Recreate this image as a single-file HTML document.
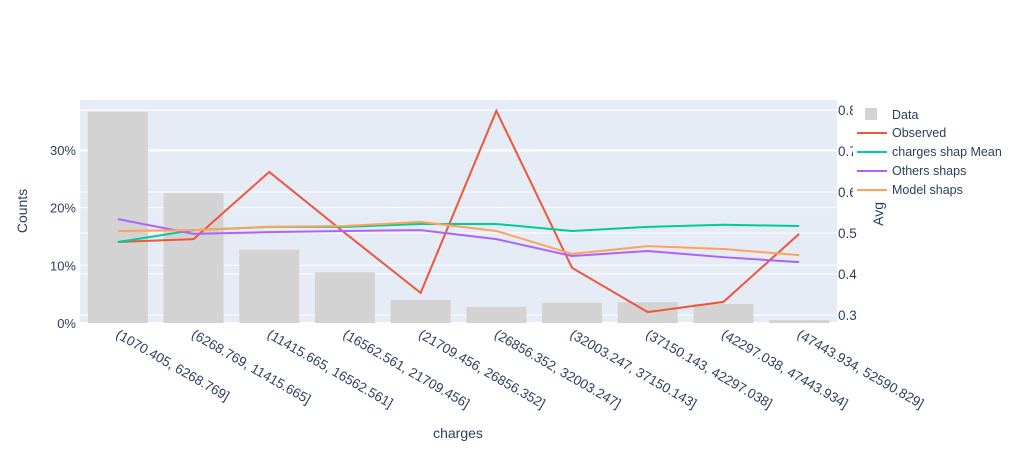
<!DOCTYPE html>
<html><head><meta charset="utf-8"><style>
body{margin:0;background:#fff;}
svg text{font-family:"Liberation Sans",Arial,sans-serif;fill:#2a3f5f;}
</style></head><body>
<svg id="chart" width="1025" height="450" xmlns="http://www.w3.org/2000/svg">
<rect x="80" y="100" width="757" height="223" fill="#e5ecf6"/>
<g id="grid"></g><g id="bars"></g><g id="lines"></g><g id="axes"></g>
<text x="458" y="438" font-size="14" text-anchor="middle">charges</text>
<text transform="translate(27,211) rotate(-90)" font-size="14" text-anchor="middle">Counts</text>
<text transform="translate(883,212) rotate(-90)" font-size="14" text-anchor="middle">Avg.</text>
<rect x="853" y="102" width="168" height="99" fill="#fff"/>
<g id="legend"></g>
</svg>
<script>
const categories=["(1070.405, 6268.769]","(6268.769, 11415.665]","(11415.665, 16562.561]","(16562.561, 21709.456]","(21709.456, 26856.352]","(26856.352, 32003.247]","(32003.247, 37150.143]","(37150.143, 42297.038]","(42297.038, 47443.934]","(47443.934, 52590.829]"];
const counts=[36.6,22.5,12.7,8.8,4.0,2.8,3.5,3.6,3.3,0.5];
const observed=[0.478,0.485,0.649,0.50,0.354,0.798,0.415,0.307,0.332,0.498];
const shapMean=[0.478,0.507,0.515,0.515,0.522,0.522,0.505,0.515,0.52,0.517];
const othersShaps=[0.534,0.498,0.502,0.505,0.507,0.485,0.444,0.456,0.441,0.429];
const modelShaps=[0.505,0.507,0.515,0.517,0.527,0.505,0.449,0.468,0.461,0.446];
const leftTicks=[0,10,20,30];
const rightTicks=[0.3,0.4,0.5,0.6,0.7,0.8];
const NS="http://www.w3.org/2000/svg";
const X0=80,W=757,YB=323;
const bw=W/categories.length;
const xc=i=>X0+bw*(i+0.5);
const yl=v=>YB-v*5.77;
const yr=v=>315-(v-0.3)*410;
function mk(tag,attrs,parent){const e=document.createElementNS(NS,tag);for(const k in attrs)e.setAttribute(k,attrs[k]);parent.appendChild(e);return e;}
const grid=document.getElementById('grid'),bars=document.getElementById('bars'),lines=document.getElementById('lines'),axes=document.getElementById('axes'),legend=document.getElementById('legend');
leftTicks.forEach(t=>{
 const l=mk('line',{x1:X0,x2:X0+W,y1:yl(t),y2:yl(t),stroke:'#fff','stroke-width':t===0?2:1},grid);
 
 
 const tx=mk('text',{x:76,y:yl(t)+5,'font-size':13,'text-anchor':'end'},axes);tx.textContent=t+'%';
 
 
});
rightTicks.forEach(t=>{
 const l=mk('line',{x1:X0,x2:X0+W,y1:yr(t),y2:yr(t),stroke:'#fff','stroke-width':1},grid);
 
 
 const tx=mk('text',{x:838,y:yr(t)+5,'font-size':13.5},axes);tx.textContent=t.toFixed(1);
 
 
});
counts.forEach((v,i)=>{
 const r=mk('rect',{x:xc(i)-30,y:yl(v),width:60,height:YB-yl(v),fill:'#d3d3d3'},bars);
 
 
 const tx=mk('text',{x:0,y:0,'font-size':13.5,transform:`translate(${xc(i)-3},${YB+14}) rotate(30)`},axes);tx.textContent=categories[i];
 
 
});
const series=[["Observed",observed,"#ef553b"],["charges shap Mean",shapMean,"#00cc96"],["Others shaps",othersShaps,"#ab63fa"],["Model shaps",modelShaps,"#ffa15a"]];
series.forEach(([n,d,c])=>{
 const p=mk('polyline',{points:d.map((v,i)=>xc(i)+','+yr(v)).join(' '),fill:'none',stroke:c,'stroke-width':2},lines);
 
 
});
const lr=mk('rect',{x:865,y:108,width:12,height:12,fill:'#d3d3d3'},legend);


const lt=mk('text',{x:892,y:119,'font-size':12.5},legend);lt.textContent='Data';


series.forEach(([n,d,c],k)=>{
 const y=133+k*19;
 const l=mk('line',{x1:857,x2:887,y1:y,y2:y,stroke:c,'stroke-width':2},legend);
 
 
 const t=mk('text',{x:892,y:y+4,'font-size':12.5},legend);t.textContent=n;
 
 
});
</script>
</body></html>
